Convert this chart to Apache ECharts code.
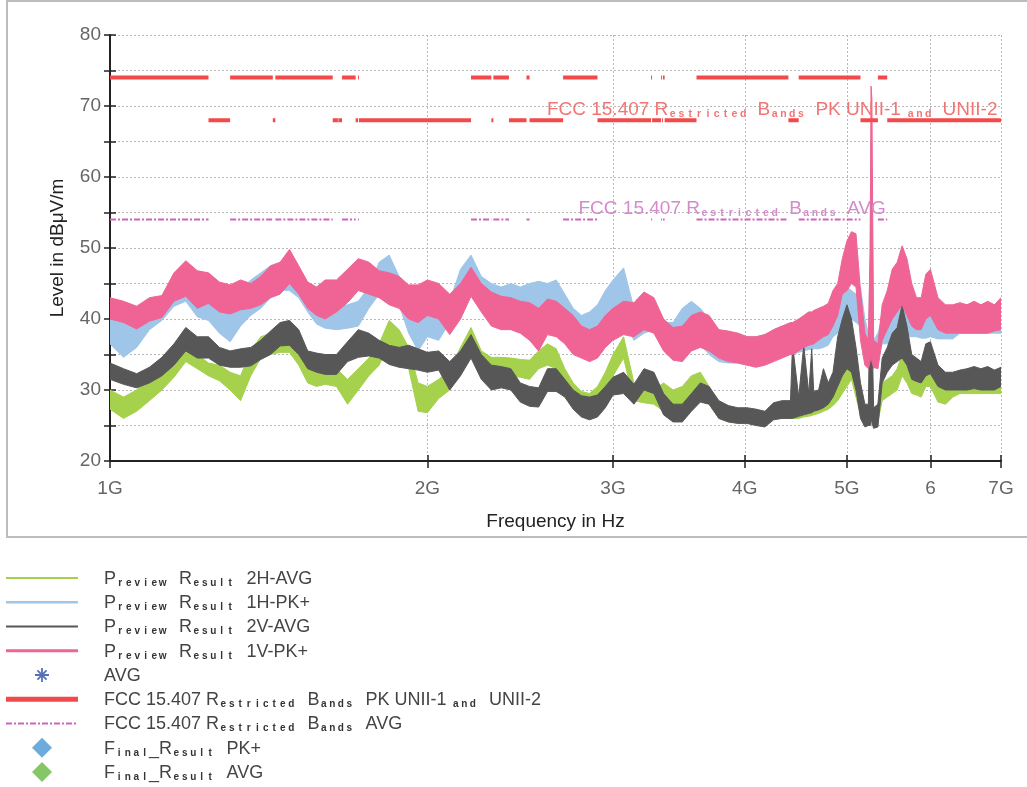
<!DOCTYPE html>
<html><head><meta charset="utf-8">
<script src="https://cdn.jsdelivr.net/npm/echarts@6/dist/echarts.min.js"></script>
<style>html,body{margin:0;padding:0;background:#fff}#c{width:1027px;height:787px}</style>
</head><body><div id="c"></div>
<script>
// ---------- data ----------
const freqGHz = [
  1.00,1.03,1.06,1.09,1.12,1.15,1.18,1.21,1.24,1.27,1.30,1.33,1.36,1.39,1.42,1.45,1.48,1.51,1.54,1.57,1.60,
  1.64,1.68,1.72,1.76,1.80,1.84,1.88,1.92,1.96,2.00,
  2.05,2.10,2.15,2.20,2.25,2.30,2.35,2.40,2.45,2.50,2.55,2.60,2.65,2.70,2.75,2.80,2.85,2.90,2.95,3.00,
  3.07,3.14,3.21,3.28,3.35,3.42,3.49,3.56,3.63,3.70,
  3.78,3.86,3.94,4.02,4.10,4.18,4.26,4.34,4.42,4.44,4.50,
  4.55,4.60,4.63,4.65,4.70,4.75,4.80,4.85,4.90,4.95,5.00,5.05,5.10,5.15,5.20,
  5.24,5.26,5.27,5.28,5.30,
  5.35,5.40,5.46,5.52,5.58,5.64,5.70,5.76,5.82,5.88,5.94,6.00,
  6.10,6.20,6.30,6.40,6.50,6.60,6.70,6.80,6.90,7.00
];
// Preview Result 1V-PK+ (upper / lower edge of the trace band)
const pk1V_hi = [
  43,42.5,41.8,43,43.3,46.5,48.2,46.8,46.5,45.2,44.8,45.5,45,46,47.5,48,49.8,47.5,45.2,44.5,45.5,
  45.5,47,48.5,48,46.8,46.5,46,44.8,44.8,45.5,
  45,43.5,45,47.3,45,43.8,43.2,43,42.5,42.3,41.5,42.8,42.5,41.5,40.5,39,38.5,39,40.5,41.5,
  42.5,42.3,43.8,43,40,38.8,39,40.5,41,40.5,
  38.5,38.3,38,37.5,37.5,37.8,38.5,39,39.5,39.5,40,
  40.5,41,41,41.2,41.5,41.8,42.2,44,45,48.5,51,52.3,52,44,38,
  37,50,72.8,71,37,
  36.5,42,44,47,48,50.3,48.5,45,43,43,46.3,47,
  43,42,42,42.3,42,42.5,42,42.5,42,43
];
const pk1V_lo = [
  40,39.5,38.6,39.7,40.2,42.5,43.2,41.5,42.2,41,40.7,41.3,41.5,42,43,43.5,45,43.5,41.5,40.5,40,
  41,42.3,44,43.5,43,42,41.5,40,39.5,40.5,
  40,37.8,40,43.2,41,39,38.5,38.5,38,37,35.5,37.8,37.5,36.5,35,34.5,34,34.5,36,37,
  37.8,37.5,38.5,38,35.5,34.2,34,35.5,36,35.5,
  34.5,34,33.8,33.5,33.2,33.5,34,34.5,35,35,35.5,
  36,36.3,36.4,36.5,37,37.5,37.8,39,40.5,43.5,44,45,44.5,37,33.5,
  33,34,35,34,33.2,
  33,37,38.5,40,41,42,40.5,39,38.5,38.5,40,40.5,
  38.5,38,38,38,38,38,38,38,38.3,38.5
];
// Preview Result 1H-PK+
const pk1H_hi = [
  40.5,39.5,40,41,42.5,44.5,45,43.5,43,42,41.5,44,45.5,46.5,47.5,47,46,45.5,43,42.3,42,
  41.5,42,42.5,44.5,48,49,46,43,41.5,41,
  41.5,42.5,47,49,46,45,44.5,45,44.5,45,45.3,45,45.5,43.5,41.5,40.5,41,42,44,45.5,
  47.2,41.5,41.8,42,39.5,39.5,41.5,42.5,41.5,40,
  38.5,38,38,37.5,37.5,37.8,38.5,39,39,39,39.5,
  39.5,39.8,39.9,40,40,40.3,40.5,41.5,42,43.5,44.5,44,43.5,44.5,40,
  38,48,65,60,37,
  38,40,41,42,43,44,44.5,43.5,42.5,42,43.5,42,
  40.5,40.5,41.5,42,42,42,42,42,42,42
];
const pk1H_lo = [
  36.5,34.6,36,38.5,39.8,41.8,42.5,40.3,39.8,38,36.8,39,40.5,41.5,43,44,44,43,41,39.3,38.7,
  38.5,38.7,39,41.5,43.5,44,42,38,35.5,37.5,
  37,39.5,41,44,42,41.5,41,41.5,41,41.5,41.5,41.8,41.5,39.5,38,37.5,37.5,38.5,39,40,
  40,37,38,38.5,37,36.8,38,38.8,36.5,35,
  34,33.8,33.8,33.5,33.5,34,34.5,35,35,35,35.3,
  35.5,35.7,35.7,35.8,35.8,36,36.3,37.5,38,39,40,40,39.5,39,35,
  34,34,34,34,33,
  34,36.5,36.5,36.8,37,37.3,37.5,37.5,37.5,37.3,37.3,37.5,
  37.2,37.2,37.2,38,38,38,38,38,38,38
];
// Preview Result 2V-AVG
const avg2V_hi = [
  33.8,33,32.3,33.2,34.6,36.5,38.8,37.5,37.5,36,35.5,35.8,36,37,38.3,39.5,39.8,38.5,35.5,35.2,35,
  35,36.8,38.5,38,37,36.3,36,36.3,35.8,35.3,
  35.5,34,35.5,37.8,35,33.5,33.3,33,31,30.5,30.3,33,33,31.5,30,29.2,29,29.3,30.5,31.8,
  32.5,30.8,33,32.5,29.5,28,28,29.5,31,30.5,
  28.5,27.8,27.5,27.5,27.3,27,28.2,28.5,28.5,36.4,29,
  36.3,29.5,35.8,29.8,30,33,31,32.5,37.5,40,42,40,36,31,28,
  28,45,55,40,27.5,
  28,34.5,36,38,38.8,42,39,35,34.5,34,36.5,36.8,
  33.5,32.5,32.5,32.8,33,33.3,33,33.3,32.8,33.2
];
const avg2V_lo = [
  31.5,30.8,30.3,31,32,33.5,35.5,34.5,34.5,33.5,33.2,33.2,33.4,34.3,35,36.2,36.3,35,33,32.5,32.2,
  32.2,34,34.6,34.8,34.5,33.6,33.2,33,32.8,32.5,
  32.8,30,32,34.5,31.5,30,30.3,30,28.3,27.7,27.6,29.8,29.8,29,27.3,26.2,25.8,26.2,27.5,29.3,
  29.5,28,30,29.5,26.5,25.5,25.5,27,28.3,28,
  26,25.5,25.3,25.3,25,24.8,25.8,26,26,26,26.3,
  26.5,26.7,26.8,27,27.2,27.5,28,29,30.5,32,33,32.5,30,26,24.8,
  25,25,26,25.5,24.6,
  24.8,31,32.5,33.5,34,34.5,33.5,31.5,31.2,31,32,32.3,
  30.5,30,30,30,30,30.2,30,30,30,30.5
];
// Preview Result 2H-AVG
const avg2H_hi = [
  30,29,30,31.5,32.8,34.5,36.5,35,33.8,33.5,32.5,32,35.5,37.5,38,37.3,37,36,33.5,33,33.2,
  33,31.5,33,34.5,36.5,39.8,38.5,36,31,30.5,
  31.5,32.8,36,38.8,35.5,34.6,34.6,34.5,34.3,34.2,35.5,36.5,35.8,33,31,29.8,29.5,30.5,32.5,35,
  37.5,31,30.2,30,31,30,30.5,32,32.5,30.5,
  27.8,26.8,26.5,26.5,26.3,26.5,28,28,28,28,28,
  28.3,28.5,28.6,28.7,29,29.5,29.8,30.5,31,32.5,34.5,35.5,33,30,27,
  27,27,27,27,27,
  28,31,31.5,32,33,35,34,32.5,32,32,33.5,33.5,
  30.8,30.5,30.5,30.5,30.5,30.5,30.5,30.5,30.5,30.5
];
const avg2H_lo = [
  27.3,26,27,28.5,30,31.8,34,33,32,31.3,30,28.5,32,34.5,35,35.3,35.3,33.5,31,30.5,30.8,
  30.5,28,30,32,33.5,36.5,35.5,33,27,26.8,
  28.8,30,33,36,33,32.2,32,32,31.8,31.5,33,33.5,33,30.5,28.8,27.8,27.5,28.5,30,32,
  34.5,28.5,28.2,28,27,26.5,28,29,30,28,
  26,25.5,25.3,25.3,25,25,26,26,26,26,26,
  26.2,26.3,26.4,26.5,26.7,27,27.3,27.8,28.5,29.5,30.5,31.5,29,26.5,25,
  25,25,25,25,25,
  25.5,28.5,29,29.5,30,32,31,29.5,29.3,29,30.5,30.5,
  28.3,28,29,29.5,29.5,29.5,29.5,29.5,29.5,29.5
];
// FCC 15.407 limits: band edges (GHz); restricted bands alternate with UNII bands
const bandEdges = [1.0,1.24,1.30,1.427,1.435,1.6265,1.645,1.6465,1.66,1.71,1.7188,1.7222,2.2,2.3,2.31,2.39,2.4835,2.5,2.69,2.9,3.26,3.267,3.332,3.339,3.3458,3.358,3.6,4.4,4.5,5.15,5.35,5.46,7.0];
const bandRestricted = [1,0,1,0,1,0,1,0,1,0,1,0,1,0,1,0,1,0,1,0,1,0,1,0,1,0,1,0,1,0,1,0];
const pkLimitRestricted = 74;
const pkLimitUnii = 68;
const avgLimitRestricted = 54;
// axes
const xTickValues = [1,2,3,4,5,6,7];
const xTickLabels = ['1G','2G','3G','4G','5G','6','7G'];
const yTickLabelValues = [20,30,40,50,60,70,80];
// names
const names = {
  g: 'Preview Result 2H-AVG', b: 'Preview Result 1H-PK+', k: 'Preview Result 2V-AVG', p: 'Preview Result 1V-PK+',
  avg: 'AVG', pk: 'FCC 15.407 Restricted Bands PK UNII-1 and UNII-2', av: 'FCC 15.407 Restricted Bands AVG',
  fpk: 'Final_Result PK+', favg: 'Final_Result AVG'
};

// ---------- build ----------
const FONT = "'Liberation Sans', Arial, sans-serif";
const C = { g:'#a5d14c', b:'#9fc6e8', k:'#575757', p:'#ef6494', red:'#f24a4a', av:'#cc66bb',
            ast:'#2c4ea0', dB:'#4896d6', dG:'#66b840' };

// text renderer: capitals / digits normal, lower-case letters tiny in fixed slots
function richify(text, up, low, sp) {
  let out = '', buf = '', prevLower = false;
  for (const ch of text) {
    if (ch >= 'a' && ch <= 'z') {
      if (buf) { out += '{' + up + '|' + buf + '}'; buf = ''; }
      out += '{' + low + '|' + ch + '}';
      prevLower = true;
    } else if (ch === ' ' && prevLower) {
      if (buf) { out += '{' + up + '|' + buf + '}'; buf = ''; }
      out += '{' + sp + '| }';
      prevLower = false;
    } else { buf += ch; prevLower = false; }
  }
  if (buf) out += '{' + up + '|' + buf + '}';
  return out;
}

const pkData = [], avData = [];
for (let i = 0; i < bandRestricted.length; i++) {
  const a = bandEdges[i], b = bandEdges[i + 1];
  const v = bandRestricted[i] ? pkLimitRestricted : pkLimitUnii;
  pkData.push([a, v], [b, v], [b, '-']);
  if (bandRestricted[i]) avData.push([a, avgLimitRestricted], [b, avgLimitRestricted], [b, '-']);
}
let avEnd = 0;
bandRestricted.forEach((r, i) => { if (r) avEnd = bandEdges[i + 1]; });

function legendLine(name, color, width) {
  return { type: 'line', name, data: [], symbol: 'none', lineStyle: { color, width }, itemStyle: { color } };
}
function band(name, color, lo, hi) {
  return {
    type: 'custom', name: name + ' (band)', silent: true, clip: true,
    data: freqGHz.map((f, i) => [f, lo[i], hi[i]]),
    encode: { x: 0, y: [1, 2] },
    renderItem(params, api) {
      if (params.dataIndex !== 0) return null;
      const top = freqGHz.map((f, i) => api.coord([f, hi[i]]));
      const bot = freqGHz.map((f, i) => api.coord([f, lo[i]])).reverse();
      return { type: 'polygon', shape: { points: top.concat(bot) },
               style: { fill: color, stroke: color, lineWidth: 1 } };
    }
  };
}

function labelRich(color) {
  return {
    u: { fontFamily: FONT, fontSize: 19, lineHeight: 20, verticalAlign: 'bottom', color },
    l: { fontFamily: FONT, fontSize: 10.5, lineHeight: 13, width: 8.8, align: 'center', verticalAlign: 'bottom', color, fontWeight: 'bold' },
    s: { fontFamily: FONT, fontSize: 10, lineHeight: 13, width: 10, verticalAlign: 'bottom', color }
  };
}

// legend icons (72 x 20 box)
const BOX = 'M0,0h0.01v0.01h-0.01z M72,20h0.01v0.01h-0.01z ';
function lineIcon(t) { return 'path://' + BOX + 'M0,' + (10 - t / 2) + 'h72v' + t + 'h-72z'; }
function dashDotIcon() {
  let p = 'path://' + BOX;
  for (let k = 0; k < 6; k++) p += 'M' + (12 * k) + ',9h6v2h-6z M' + (12 * k + 8) + ',9h2v2h-2z ';
  return p;
}
const asteriskIcon = 'path://M0,0h0.01v0.01h-0.01z M20,20h0.01v0.01h-0.01z M9.1,3h1.8v14h-1.8z M3,9.1h14v1.8h-14z M4.8,6.1L6.1,4.8L15.2,13.9L13.9,15.2z M13.9,4.8L15.2,6.1L6.1,15.2L4.8,13.9z';
const diamondIcon = 'path://M10,0L20,10L10,20L0,10Z';

const series = [
  legendLine(names.g, C.g, 2),
  legendLine(names.b, C.b, 2.5),
  legendLine(names.k, C.k, 2),
  legendLine(names.p, C.p, 3),
  { type: 'scatter', name: names.avg, data: [], itemStyle: { color: C.ast } },
  {
    type: 'line', name: names.pk, data: pkData, symbol: 'none', z: 3,
    lineStyle: { color: C.red, width: 4 }, itemStyle: { color: C.red },
    markPoint: {
      symbol: 'circle', symbolSize: 1, itemStyle: { color: 'rgba(0,0,0,0)' }, silent: true,
      data: [{ coord: [bandEdges[bandEdges.length - 1], pkLimitUnii] }],
      label: { show: true, position: 'left', distance: 3, offset: [0, -11],
               formatter: () => richify(names.pk, 'u', 'l', 's'), rich: labelRich('#f27575') }
    }
  },
  {
    type: 'line', name: names.av, data: avData, symbol: 'none', z: 3,
    lineStyle: { color: C.av, width: 2, type: [6, 2, 2, 2] }, itemStyle: { color: C.av },
    markPoint: {
      symbol: 'circle', symbolSize: 1, itemStyle: { color: 'rgba(0,0,0,0)' }, silent: true,
      data: [{ coord: [avEnd, avgLimitRestricted] }],
      label: { show: true, position: 'left', distance: 1, offset: [0, -11],
               formatter: () => richify(names.av, 'u', 'l', 's'), rich: labelRich('#d58bcb') }
    }
  },
  { type: 'scatter', name: names.fpk, data: [], itemStyle: { color: C.dB } },
  { type: 'scatter', name: names.favg, data: [], itemStyle: { color: C.dG } },
  band(names.g, C.g, avg2H_lo, avg2H_hi),
  band(names.b, C.b, pk1H_lo, pk1H_hi),
  band(names.k, C.k, avg2V_lo, avg2V_hi),
  band(names.p, C.p, pk1V_lo, pk1V_hi)
];

const axisColor = '#222';
const splitStyle = { show: true, lineStyle: { color: '#b8b8b8', type: [2, 2], width: 1 } };
const noBorder = { borderWidth: 0 };

const option = {
  animation: false,
  backgroundColor: '#fff',
  grid: { left: 110, right: 26, top: 35, bottom: 326, containLabel: false },
  graphic: [{ type: 'rect', silent: true, z: -10,
              shape: { x: 7, y: 1, width: 1040, height: 536 },
              style: { fill: 'none', stroke: '#bdbdbd', lineWidth: 2 } }],
  xAxis: [{
    type: 'log', logBase: 10, min: 1, max: 7,
    axisLine: { show: true, onZero: false, lineStyle: { color: axisColor, width: 2 } },
    axisTick: { show: true, customValues: xTickValues, length: 7, lineStyle: { color: axisColor, width: 1.5 } },
    axisLabel: { customValues: xTickValues, color: '#666', fontSize: 19, fontFamily: FONT, margin: 18,
                 formatter: v => xTickLabels[xTickValues.indexOf(Math.round(v))] },
    splitLine: splitStyle,
    name: 'Frequency in Hz', nameLocation: 'middle', nameGap: 51,
    nameTextStyle: { color: '#222', fontSize: 19, fontFamily: FONT }
  }, {
    type: 'log', logBase: 10, min: 1, max: 7, position: 'bottom',
    axisLine: { show: false },
    axisTick: { show: true, inside: true, customValues: xTickValues, length: 6, lineStyle: { color: axisColor, width: 1.5 } },
    axisLabel: { show: false }, splitLine: { show: false }
  }],
  yAxis: [{
    type: 'value', min: 20, max: 80, interval: 5,
    axisLine: { show: true, onZero: false, lineStyle: { color: axisColor, width: 2 } },
    axisTick: { show: true, length: 6, lineStyle: { color: axisColor, width: 1.5 } },
    axisLabel: { color: '#666', fontSize: 19, fontFamily: FONT, margin: 9,
                 formatter: v => yTickLabelValues.includes(v) ? String(v) : '' },
    splitLine: splitStyle,
    name: 'Level in dBμV/m', nameLocation: 'middle', nameGap: 43, nameRotate: 90,
    nameTextStyle: { color: '#222', fontSize: 19, fontFamily: FONT }
  }, {
    type: 'value', min: 20, max: 80, interval: 5, position: 'left',
    axisLine: { show: false },
    axisTick: { show: true, inside: true, length: 6, lineStyle: { color: axisColor, width: 1.5 } },
    axisLabel: { show: false }, splitLine: { show: false }
  }],
  legend: {
    orient: 'vertical', left: 6, top: 568, itemWidth: 72, itemHeight: 20, itemGap: 4.25,
    selectedMode: false, padding: 0,
    data: [
      { name: names.g, icon: lineIcon(2), itemStyle: noBorder },
      { name: names.b, icon: lineIcon(2.5), itemStyle: noBorder },
      { name: names.k, icon: lineIcon(2), itemStyle: noBorder },
      { name: names.p, icon: lineIcon(3), itemStyle: noBorder },
      { name: names.avg, icon: asteriskIcon, itemStyle: noBorder },
      { name: names.pk, icon: lineIcon(5), itemStyle: noBorder },
      { name: names.av, icon: dashDotIcon(), itemStyle: noBorder },
      { name: names.fpk, icon: diamondIcon, itemStyle: noBorder },
      { name: names.favg, icon: diamondIcon, itemStyle: noBorder }
    ],
    formatter: n => '{g| }' + richify(n, 'u', 'l', 's'),
    textStyle: {
      color: '#444',
      rich: {
        g: { width: 21, fontSize: 10 },
        u: { fontFamily: FONT, fontSize: 18, lineHeight: 20, verticalAlign: 'bottom', color: '#444' },
        l: { fontFamily: FONT, fontSize: 10, lineHeight: 13, width: 8.5, align: 'center', verticalAlign: 'bottom', color: '#333', fontWeight: 'bold' },
        s: { fontFamily: FONT, fontSize: 10, lineHeight: 13, width: 12, verticalAlign: 'bottom', color: '#444' }
      }
    }
  },
  series
};

const chart = echarts.init(document.getElementById('c'), null, { renderer: 'canvas' });
chart.setOption(option);
</script>
</body></html>
